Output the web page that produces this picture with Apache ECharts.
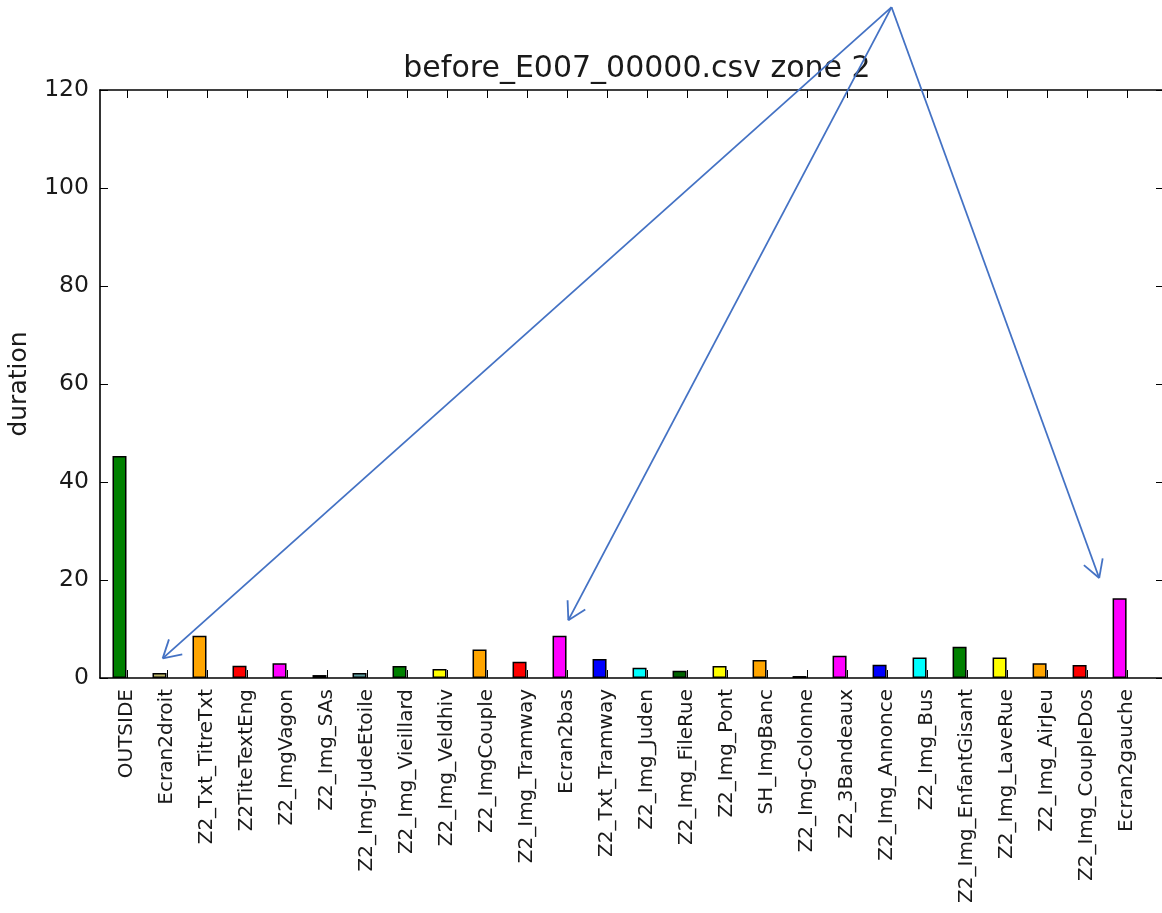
<!DOCTYPE html>
<html>
<head>
<meta charset="utf-8">
<script src="https://cdn.jsdelivr.net/npm/echarts@6/dist/echarts.min.js"></script>
<style>
  html, body { margin: 0; padding: 0; background: #fff; }
  #chart { width: 1162px; height: 913px; }
</style>
</head>
<body>
<div id="chart"></div>
<script>
// 数据：各区域的停留时间
const categories = [
    'OUTSIDE', 'Ecran2droit', 'Z2_Txt_TitreTxt', 'Z2TiteTextEng', 'Z2_ImgVagon',
    'Z2_Img_SAs', 'Z2_Img-JudeEtoile', 'Z2_Img_Vieillard', 'Z2_Img_Veldhiv', 'Z2_ImgCouple',
    'Z2_Img_Tramway', 'Ecran2bas', 'Z2_Txt_Tramway', 'Z2_Img_Juden', 'Z2_Img_FileRue',
    'Z2_Img_Pont', 'SH_ImgBanc', 'Z2_Img-Colonne', 'Z2_3Bandeaux', 'Z2_Img_Annonce',
    'Z2_Img_Bus', 'Z2_Img_EnfantGisant', 'Z2_Img_LaveRue', 'Z2_Img_AirJeu', 'Z2_Img_CoupleDos',
    'Ecran2gauche'
];
const durations = [
    45.3, 1.0, 8.6, 2.5, 3.0,
    0.6, 1.0, 2.45, 1.85, 5.8,
    3.3, 8.6, 3.9, 2.1, 1.5,
    2.45, 3.65, 0.4, 4.55, 2.7,
    4.2, 6.4, 4.2, 3.0, 2.65,
    16.3
];
const barColors = [
    '#008000', '#bdb76b', '#ffa500', '#ff0000', '#ff00ff',
    '#000030', '#5f9ea0', '#008000', '#ffff00', '#ffa500',
    '#ff0000', '#ff00ff', '#0000ff', '#00ffff', '#006400',
    '#ffff00', '#ffa500', '#000000', '#ff00ff', '#0000ff',
    '#00ffff', '#008000', '#ffff00', '#ffa500', '#ff0000',
    '#ff00ff'
];

// 注释箭头（数据坐标：类别序号, 数值）
const arrowFrom = [19.3, 136.9];
const arrowTargets = [[1.08, 4.0], [11.22, 11.8], [24.49, 20.4]];

// 刻度在柱子右侧偏移（matplotlib 旧式 edge 对齐）
const tickOffset = 0.1875;
const tickValues = categories.map((c, i) => i + tickOffset);

const font = 'DejaVu Sans';
const textColor = '#1a1a1a';

const chart = echarts.init(document.getElementById('chart'));

const axisLine = { show: true, onZero: false, lineStyle: { color: '#000', width: 1.6 } };
const tickStyle = { show: true, inside: true, length: 8, lineStyle: { color: '#000', width: 1 } };

const option = {
    animation: false,
    title: {
        text: 'before_E007_00000.csv zone 2',
        left: 632,
        top: 49,
        textAlign: 'center',
        textStyle: { fontFamily: font, fontSize: 30, fontWeight: 'normal', color: textColor }
    },
    grid: { left: 100, top: 90, width: 1064, bottom: 235, containLabel: false, outerBoundsMode: 'none' },
    xAxis: [{
        type: 'value',
        position: 'bottom',
        min: -0.4875,
        max: 26.11,
        axisLine: axisLine,
        axisTick: Object.assign({ customValues: tickValues }, tickStyle),
        axisLabel: {
            customValues: tickValues,
            rotate: 90,
            margin: 11,
            fontFamily: font,
            fontSize: 20,
            color: textColor,
            formatter: function (v) {
                return categories[Math.round(v - tickOffset)];
            }
        },
        splitLine: { show: false }
    }, {
        type: 'value',
        position: 'top',
        min: -0.4875,
        max: 26.11,
        axisLine: axisLine,
        axisTick: Object.assign({ customValues: tickValues }, tickStyle),
        axisLabel: { show: false },
        splitLine: { show: false }
    }],
    yAxis: [{
        type: 'value',
        position: 'left',
        min: 0,
        max: 120,
        interval: 20,
        name: 'duration',
        nameLocation: 'middle',
        nameGap: 68,
        nameTextStyle: { fontFamily: font, fontSize: 25, color: textColor },
        axisLine: axisLine,
        axisTick: tickStyle,
        axisLabel: { margin: 11, fontFamily: font, fontSize: 23.5, color: textColor },
        splitLine: { show: false }
    }, {
        type: 'value',
        position: 'right',
        min: 0,
        max: 120,
        interval: 20,
        axisLine: axisLine,
        axisTick: tickStyle,
        axisLabel: { show: false },
        splitLine: { show: false }
    }],
    series: [{
        type: 'bar',
        xAxisIndex: 0,
        yAxisIndex: 0,
        barWidth: 14,
        data: durations.map((v, i) => ({
            value: [i, v],
            itemStyle: { color: barColors[i], borderColor: '#000', borderWidth: 1.5 }
        }))
    }]
};

chart.setOption(option);

// 画箭头注释
function buildArrows() {
    const start = chart.convertToPixel({ gridIndex: 0 }, arrowFrom);
    const arrowColor = '#4472c4';
    const armLen = 20;
    const halfAngle = Math.PI / 6;
    const elements = [];
    arrowTargets.forEach(function (t) {
        const tip = chart.convertToPixel({ gridIndex: 0 }, t);
        elements.push({
            type: 'line',
            shape: { x1: start[0], y1: start[1], x2: tip[0], y2: tip[1] },
            style: { stroke: arrowColor, lineWidth: 1.8 },
            z: 100
        });
        const ang = Math.atan2(start[1] - tip[1], start[0] - tip[0]);
        [ang - halfAngle, ang + halfAngle].forEach(function (a) {
            elements.push({
                type: 'line',
                shape: {
                    x1: tip[0], y1: tip[1],
                    x2: tip[0] + armLen * Math.cos(a),
                    y2: tip[1] + armLen * Math.sin(a)
                },
                style: { stroke: arrowColor, lineWidth: 1.8 },
                z: 100
            });
        });
    });
    chart.setOption({ graphic: elements });
}

buildArrows();
</script>
</body>
</html>
